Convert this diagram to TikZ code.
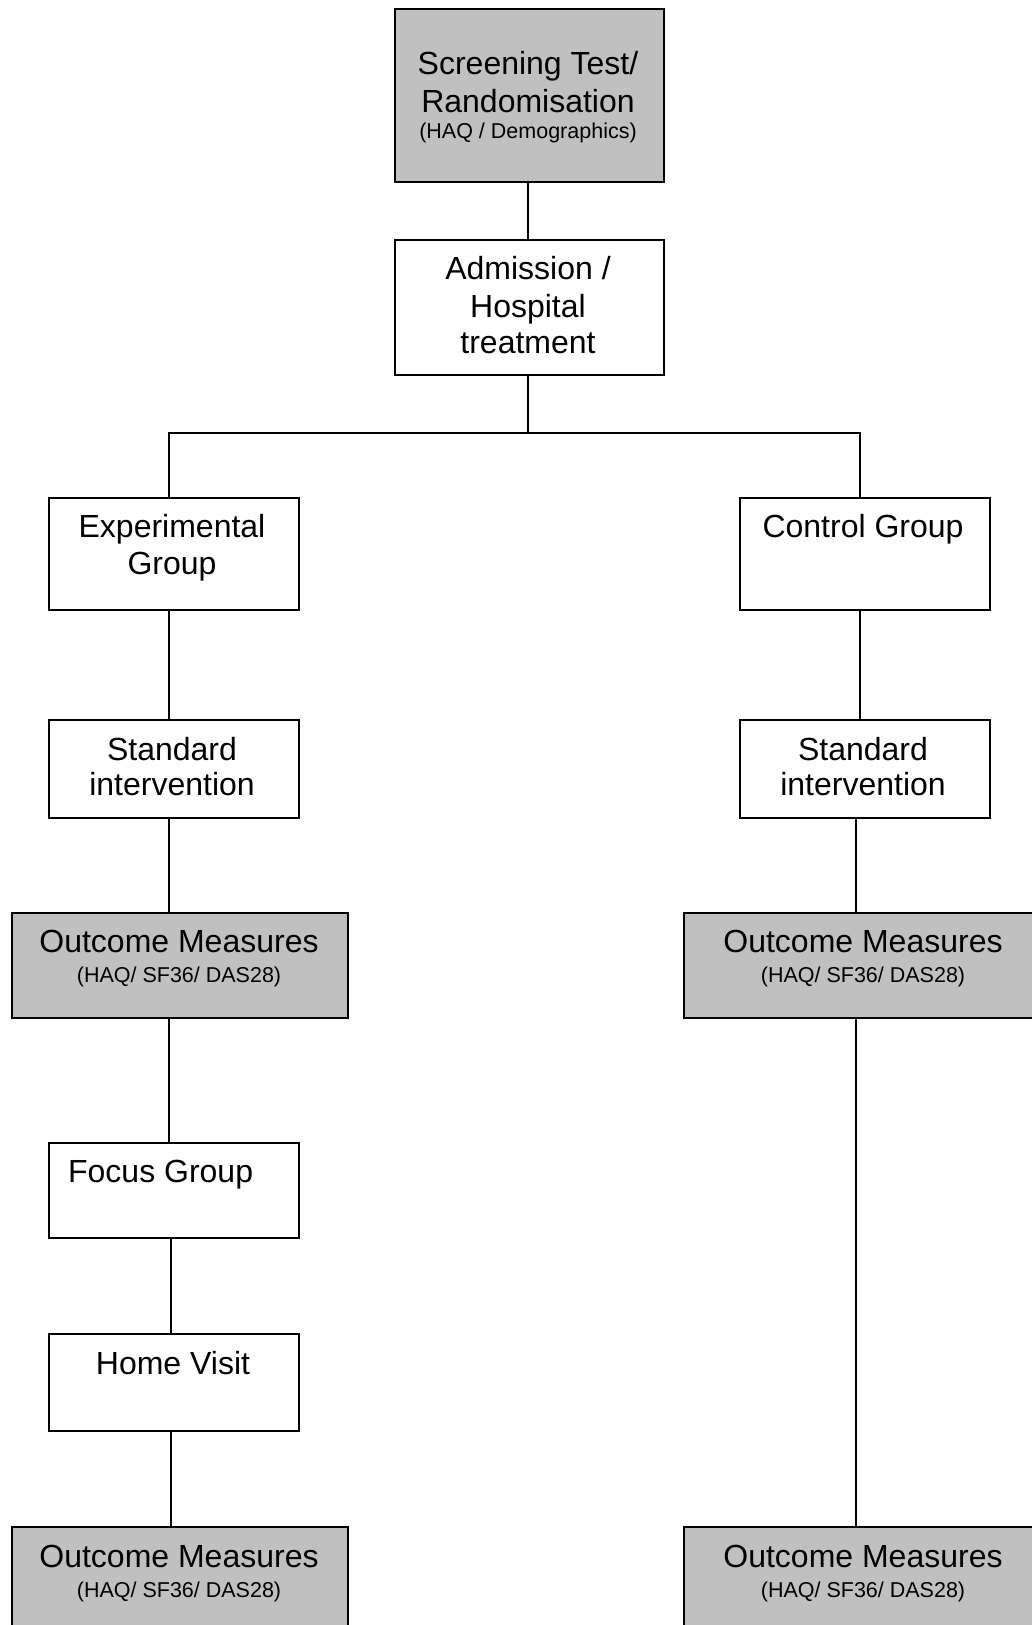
\documentclass[tikz,border=0pt]{standalone}
\usepackage{fontspec}
\setmainfont{Liberation Sans}
\begin{document}
\begin{tikzpicture}[x=1pt,y=1pt,
  box/.style={draw=black, line width=1.5pt, anchor=north west, inner sep=0pt},
  grey/.style={box, fill=boxgrey},
  big/.style={anchor=base, inner sep=0pt, font=\fontsize{32}{37}\selectfont},
  small/.style={anchor=base, inner sep=0pt, font=\fontsize{21.5}{25}\selectfont},
  conn/.style={draw=black, line width=1.5pt}]
\definecolor{boxgrey}{RGB}{192,192,192}
\useasboundingbox (0,0) rectangle (1032,-1625);
\clip (0,0) rectangle (1032,-1625);
% boxes
\node[grey, minimum width=269pt, minimum height=173pt] (scr) at (394,-8) {};
\node[box, minimum width=269pt, minimum height=135pt] (adm) at (394,-239) {};
\node[box, minimum width=250pt, minimum height=112pt] (exp) at (48,-497) {};
\node[box, minimum width=250pt, minimum height=112pt] (ctl) at (739,-497) {};
\node[box, minimum width=250pt, minimum height=98pt] (stdl) at (48,-719) {};
\node[box, minimum width=250pt, minimum height=98pt] (stdr) at (739,-719) {};
\node[grey, minimum width=336pt, minimum height=105pt] (outl) at (11,-912) {};
\node[grey, minimum width=362pt, minimum height=105pt] (outr) at (683,-912) {};
\node[box, minimum width=250pt, minimum height=95pt] (foc) at (48,-1142) {};
\node[box, minimum width=250pt, minimum height=97pt] (home) at (48,-1333) {};
\node[grey, minimum width=336pt, minimum height=114pt] (outbl) at (11,-1526) {};
\node[grey, minimum width=362pt, minimum height=114pt] (outbr) at (683,-1526) {};
% texts
\node[big] (scr1) at (528,-74.7) {Screening Test/};
\node[big] (scr2) at (528,-112) {Randomisation};
\node[small] (scr3) at (528,-138.2) {(HAQ / Demographics)};
\node[big] (adm1) at (528,-279.9) {Admission /};
\node[big] (adm2) at (528,-317.1) {Hospital};
\node[big] (adm3) at (528,-353.4) {treatment};
\node[big] (exp1) at (172,-537.8) {Experimental};
\node[big] (exp2) at (172,-574.1) {Group};
\node[big] (ctl1) at (863,-537.8) {Control Group};
\node[big] (stdl1) at (172,-760.5) {Standard};
\node[big] (stdl2) at (172,-795.5) {intervention};
\node[big] (stdr1) at (863,-760.5) {Standard};
\node[big] (stdr2) at (863,-795.5) {intervention};
\node[big] (outl1) at (179,-952.3) {Outcome Measures};
\node[small] (outl2) at (179,-982.7) {(HAQ/ SF36/ DAS28)};
\node[big] (outr1) at (863,-952.3) {Outcome Measures};
\node[small] (outr2) at (863,-982.7) {(HAQ/ SF36/ DAS28)};
\node[big] (foc1) at (160.6,-1182.3) {Focus Group};
\node[big] (home1) at (173,-1374) {Home Visit};
\node[big] (outbl1) at (179,-1567.5) {Outcome Measures};
\node[small] (outbl2) at (179,-1597.7) {(HAQ/ SF36/ DAS28)};
\node[big] (outbr1) at (863,-1567.5) {Outcome Measures};
\node[small] (outbr2) at (863,-1597.7) {(HAQ/ SF36/ DAS28)};
% connector coordinates
\coordinate (jm) at (528,-433);
\coordinate (jl) at (169,-433);
\coordinate (jr) at (860,-433);
\coordinate (xl2) at (171,0);
\coordinate (xr2) at (856,0);
% connectors
\draw[conn] (scr.south -| jm) -- (adm.north -| jm);
\draw[conn] (adm.south -| jm) -- (jm);
\draw[conn] (exp.north -| jl) -- (jl) -- (jr) -- (ctl.north -| jr);
\draw[conn] (exp.south -| jl) -- (stdl.north -| jl);
\draw[conn] (stdl.south -| jl) -- (outl.north -| jl);
\draw[conn] (outl.south -| jl) -- (foc.north -| jl);
\draw[conn] (foc.south -| xl2) -- (home.north -| xl2);
\draw[conn] (home.south -| xl2) -- (outbl.north -| xl2);
\draw[conn] (ctl.south -| jr) -- (stdr.north -| jr);
\draw[conn] (stdr.south -| xr2) -- (outr.north -| xr2);
\draw[conn] (outr.south -| xr2) -- (outbr.north -| xr2);
\end{tikzpicture}
\end{document}
